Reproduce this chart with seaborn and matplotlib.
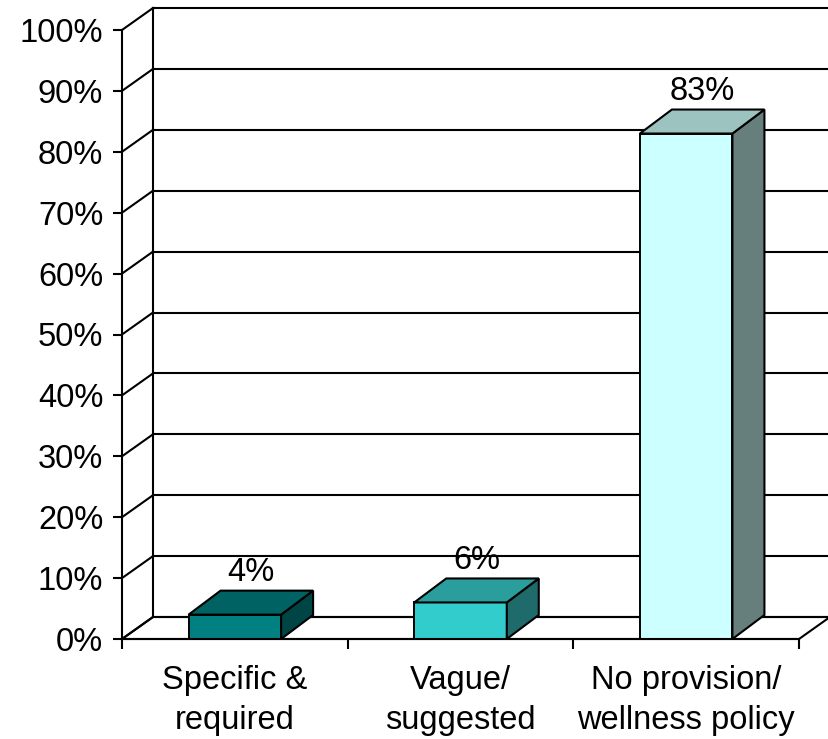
import matplotlib
matplotlib.use("Agg")
import matplotlib.pyplot as plt
from matplotlib.patches import Polygon
import seaborn as sns

# Survey result: share of policies by wording category
categories = ["Specific &\nrequired", "Vague/\nsuggested", "No provision/\nwellness policy"]
shares = [4, 6, 83]
value_labels = ["4%", "6%", "83%"]
front_colors = ["#008080", "#33CCCC", "#CCFFFF"]
top_colors = ["#006262", "#2A9E9C", "#9CC3C0"]
side_colors = ["#004545", "#1F6B6B", "#667F7D"]
y_ticks = list(range(0, 101, 10))
y_tick_labels = [f"{t}%" for t in y_ticks]

sns.set_style("white")
plt.rcParams["font.family"] = ["Liberation Sans", "DejaVu Sans"]
plt.rcParams["text.color"] = "black"
plt.rcParams["xtick.color"] = "black"
plt.rcParams["ytick.color"] = "black"

W, H = 829, 739
fig = plt.figure(figsize=(W / 100, H / 100), dpi=100)
ax = fig.add_axes([122 / W, 1 - 639 / H, 677 / W, 609 / H])

sns.barplot(x=categories, y=shares, hue=categories, palette=front_colors,
            legend=False, width=0.41, edgecolor="black", linewidth=1.4,
            saturation=1, ax=ax, zorder=2)
ax.set_xlim(-0.5, 2.5)
ax.set_ylim(0, 100)

# pixel-to-data scale for the oblique depth offsets
pos = ax.get_position()
px_x = pos.width * W / 3.0
px_y = pos.height * H / 100.0
wall_dx, wall_dy = 31 / px_x, 22 / px_y
bar_dx, bar_dy = 32 / px_x, 24 / px_y

LW = 1.5
line_kw = dict(color="black", lw=LW, clip_on=False, solid_capstyle="projecting")

# floor
floor = Polygon([(-0.5, 0), (2.5, 0), (2.5 + wall_dx, wall_dy), (-0.5 + wall_dx, wall_dy)],
                closed=True, facecolor="white", edgecolor="black", lw=LW,
                clip_on=False, zorder=0.4)
ax.add_patch(floor)

# back wall gridlines and side wall diagonals
for t in y_ticks:
    ax.plot([-0.5 + wall_dx, 2.5 + wall_dx], [t + wall_dy, t + wall_dy], zorder=0.5, **line_kw)
    ax.plot([-0.5, -0.5 + wall_dx], [t, t + wall_dy], zorder=0.5, **line_kw)
ax.plot([-0.5 + wall_dx] * 2, [wall_dy, 100 + wall_dy], zorder=0.5, **line_kw)

# top and side faces of each bar
half = 0.41 / 2
for i, v in enumerate(shares):
    l, r = i - half, i + half
    top = Polygon([(l, v), (r, v), (r + bar_dx, v + bar_dy), (l + bar_dx, v + bar_dy)],
                  closed=True, facecolor=top_colors[i], edgecolor="black", lw=LW,
                  clip_on=False, zorder=3)
    side = Polygon([(r, 0), (r + bar_dx, bar_dy), (r + bar_dx, v + bar_dy), (r, v)],
                   closed=True, facecolor=side_colors[i], edgecolor="black", lw=LW,
                   clip_on=False, zorder=3)
    ax.add_patch(side)
    ax.add_patch(top)
    ax.annotate(value_labels[i], xy=(i + bar_dx / 2, v + bar_dy), xytext=(0, 7),
                textcoords="offset points", ha="center", va="baseline",
                fontsize=23.5, color="black", annotation_clip=False)

# axes styling
for s in ["top", "right"]:
    ax.spines[s].set_visible(False)
for s in ["left", "bottom"]:
    ax.spines[s].set_linewidth(LW)
    ax.spines[s].set_color("black")
    ax.spines[s].set_zorder(4)

ax.set_yticks(y_ticks)
ax.set_yticklabels(y_tick_labels, fontsize=23.5, color="black")
ax.tick_params(axis="y", direction="out", length=6.5, width=LW, pad=7, left=True)

ax.set_xticks([0, 1, 2])
ax.set_xticklabels(categories, fontsize=23.5, linespacing=1.35, color="black")
ax.set_xticks([-0.5, 0.5, 1.5, 2.5], minor=True)
ax.tick_params(axis="x", which="major", length=0, pad=19)
ax.tick_params(axis="x", which="minor", direction="out", length=7, width=LW, bottom=True)
ax.set_xlabel("")
ax.set_ylabel("")
ax.patch.set_alpha(0)

fig.savefig("out.png", dpi=100, facecolor="white")
